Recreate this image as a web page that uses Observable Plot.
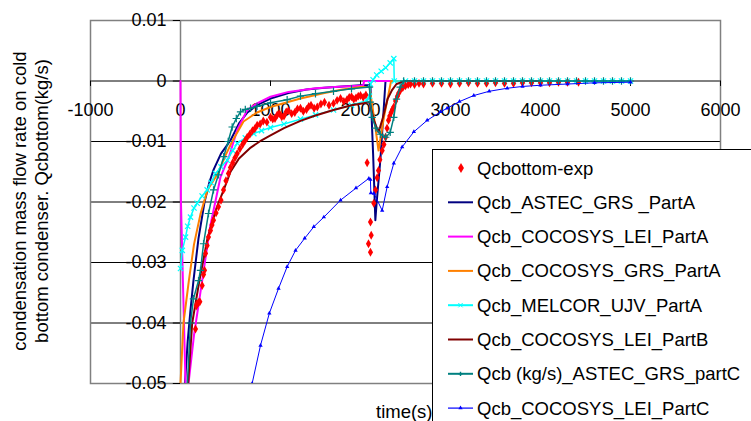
<!DOCTYPE html>
<html><head><meta charset="utf-8">
<script src="https://cdn.jsdelivr.net/npm/d3@7"></script>
<script src="https://cdn.jsdelivr.net/npm/@observablehq/plot@0.6"></script>
<style>body{margin:0;background:#fff} svg{display:block}</style>
</head><body><div id="chart"></div>
<script>
// ---- tick labels ----
const xTicks = [-1000, 0, 1000, 2000, 3000, 4000, 5000, 6000];
const xTickLabels = ["-1000", "0", "1000", "2000", "3000", "4000", "5000", "6000"];
const yTicks = [0.01, 0, -0.01, -0.02, -0.03, -0.04, -0.05];
const yTickLabels = ["0.01", "0", "-0.01", "-0.02", "-0.03", "-0.04", "-0.05"];
const yGrid = [0, -0.01, -0.02, -0.03, -0.04];

// ---- series names ----
const seriesNames = ["Qcbottom-exp", "Qcb_ASTEC_GRS _PartA", "Qcb_COCOSYS_LEI_PartA", "Qcb_COCOSYS_GRS_PartA",
  "Qcb_MELCOR_UJV_PartA", "Qcb_COCOSYS_LEI_PartB", "Qcb (kg/s)_ASTEC_GRS_partC", "Qcb_COCOSYS_LEI_PartC"];
const seriesColors = ["#ff0000", "#000080", "#ff00ff", "#ff8000", "#00ffff", "#800000", "#008080", "#0000ff"];

// ---- experiment (points) ----
const expT = [167,175,185,200,215,241,256,267,278,296,311,333,350,367,395,422,450,478,505,533,555,580,605,630,660,690,715,741,770,800,825,852,885,
  920,960,1000,1025,1050,1075,1100,1125,1150,1175,1200,1235,1270,1300,1333,1365,1400,1425,1450,1485,1520,1560,1600,1650,1700,1740,1778,1815,1850,1875,1900,1925,1950,1975,2000,2030,2060,
  2074,2111,2119,2089,2111,2148,2167,2185,2200,2215,2241,2260,2278,2295,2311,2325,2340,2355,2370,2390,2410,2425,2444,2470,2500,2530,2556,2600,2650,
  2700,2800,2900,3000,3100,3200,3300,3400,3500,3600,3700,3800,3900,4000,4100,4200,4300,4422];
const expQ = [-0.041,-0.0372,-0.0368,-0.0366,-0.0365,-0.0338,-0.032,-0.0313,-0.0285,-0.0272,-0.0258,-0.0247,-0.0238,-0.023,-0.0218,-0.0208,-0.0197,-0.018,-0.0165,-0.0153,-0.0143,-0.0135,-0.0127,-0.012,-0.0112,-0.0105,-0.0099,-0.0093,-0.0088,-0.0082,-0.0079,-0.0073,-0.0071,
  -0.0066,-0.0068,-0.006,-0.0063,-0.0062,-0.0056,-0.0054,-0.0059,-0.0058,-0.0051,-0.0049,-0.0054,-0.0052,-0.0046,-0.0045,-0.005,-0.0047,-0.0042,-0.004,-0.0045,-0.0043,-0.0038,-0.0035,-0.004,-0.0037,-0.0032,-0.0029,-0.0034,-0.0031,-0.0027,-0.0026,-0.003,-0.0028,-0.0025,-0.0024,-0.0027,-0.0023,
  -0.0135,-0.0233,-0.0255,-0.0269,-0.0283,-0.0202,-0.018,-0.016,-0.0148,-0.013,-0.0115,-0.0105,-0.0093,-0.0078,-0.0065,-0.0058,-0.0052,-0.0047,-0.0043,-0.0033,-0.0025,-0.002,-0.0015,-0.0011,-0.0008,-0.0006,-0.0005,-0.0006,-0.0004,
  -0.0005,-0.0004,-0.0004,-0.0005,-0.0004,-0.0003,-0.0004,-0.0004,-0.0003,-0.0004,-0.0004,-0.0003,-0.0003,-0.0003,-0.0003,-0.0002,-0.0002,-0.0002];

// ---- Qcb_ASTEC_GRS _PartA ----
const astecAT = [50,80,110,144,200,267,320,367,450,556,650,744,850,1000,1200,1400,1600,1800,2000,2110,2140,2165,2180,2222,2278,3000,4000];
const astecAQ = [-0.05,-0.043,-0.038,-0.033,-0.026,-0.02,-0.0168,-0.0147,-0.012,-0.0098,-0.007,-0.0052,-0.004,-0.0029,-0.002,-0.0014,-0.0011,-0.0009,-0.0007,-0.0007,-0.012,-0.023,-0.02,-0.0128,0,0,0];

// ---- Qcb_COCOSYS_LEI_PartA ----
const leiAT = [0,5,30,56,72,89,150,241,330,444,537,630,741,850,1000,1200,1500,1800,2000,2030,2040,3000,4000];
const leiAQ = [0,-0.02,-0.035,-0.05,-0.056,-0.05,-0.042,-0.033,-0.024,-0.0159,-0.0126,-0.0081,-0.0048,-0.0037,-0.0026,-0.0018,-0.0012,-0.0009,-0.0008,-0.0008,0,0,0];

// ---- Qcb_COCOSYS_GRS_PartA ----
const grsAT = [0,33,93,150,222,300,407,500,574,700,850,1000,1333,1600,1800,2000,2100,2150,2200,2260,2340,3000,4000];
const grsAQ = [-0.05,-0.04,-0.033,-0.027,-0.022,-0.018,-0.0155,-0.0123,-0.01,-0.0067,-0.0052,-0.0043,-0.0029,-0.002,-0.0014,-0.001,-0.001,-0.006,-0.0115,-0.006,0,0,0];

// ---- Qcb_MELCOR_UJV_PartA ----
const melT = [0,20,56,80,111,150,185,240,296,340,389,450,519,580,630,720,815,900,1000,1150,1333,1500,1700,1900,2074,2100,2110,2140,2180,2230,2280,2330,2370,2375,
  2500,2600,2700,2800,2900,3000,3100,3200,3300,3400,3500,3600,3700,3800,3900,4000,4100,4200,4300,4400,4500,4600,4700,4800,4900,5000];
const melQ = [-0.031,-0.028,-0.0258,-0.024,-0.0225,-0.021,-0.0202,-0.019,-0.018,-0.0168,-0.0153,-0.0142,-0.0131,-0.0115,-0.0103,-0.0094,-0.0087,-0.0082,-0.0077,-0.0071,-0.0063,-0.0056,-0.0048,-0.004,-0.0032,-0.0025,-0.0005,0.0002,0.001,0.0016,0.0022,0.003,0.0037,0,
  0,0,0,0,0,0,0,0,0,0,0,0,0,0,0,0,0,0,0,0,0,0,0,0,0,0];

// ---- Qcb_COCOSYS_LEI_PartB ----
const leiBT = [85,130,210,300,400,480,556,650,780,900,1000,1150,1333,1500,1700,1900,2100,2150,2200,2250,2300,2350,2400,2500,3000,4000];
const leiBQ = [-0.05,-0.04,-0.033,-0.026,-0.021,-0.018,-0.015,-0.0128,-0.011,-0.0098,-0.009,-0.0078,-0.0066,-0.0057,-0.0048,-0.004,-0.0035,-0.0065,-0.0085,-0.006,-0.003,-0.0015,-0.0005,0,0,0];

// ---- Qcb (kg/s)_ASTEC_GRS_partC ----
const astecCT = [77,111,144,200,222,256,311,367,422,480,530,574,620,667,720,778,850,1000,1185,1333,1500,1700,1900,2100,2110,2130,2170,2220,2280,2330,2370,2400,2440,2480,
  2600,2700,2800,2900,3000,3100,3200,3300,3400,3500,3600,3700,3800,3900,4000,4100,4200,4300,4400,4500,4600,4700,4800,4900,5000];
const astecCQ = [-0.05,-0.04,-0.036,-0.033,-0.0313,-0.0269,-0.0219,-0.018,-0.0155,-0.0125,-0.01,-0.0076,-0.0062,-0.0051,-0.0047,-0.0045,-0.0042,-0.0036,-0.0031,-0.0025,-0.0021,-0.0017,-0.0013,-0.001,-0.0035,-0.006,-0.0078,-0.0088,-0.0093,-0.0085,-0.006,-0.003,-0.001,0,
  0,0,0,0,0,0,0,0,0,0,0,0,0,0,0,0,0,0,0,0,0,0,0,0,0];

// ---- Qcb_COCOSYS_LEI_PartC ----
const leiCT = [796,889,987,1089,1185,1278,1380,1481,1593,1778,1950,2093,2110,2115,2150,2241,2296,2370,2463,2593,2741,2889,2963,3100,3259,3430,3630,3800,4000,4300,4600,5000];
const leiCQ = [-0.05,-0.0437,-0.0384,-0.0343,-0.0307,-0.028,-0.026,-0.0241,-0.0225,-0.0197,-0.0177,-0.0161,-0.0163,-0.0185,-0.0186,-0.0214,-0.0175,-0.0136,-0.0109,-0.0084,-0.0065,-0.0051,-0.0045,-0.0034,-0.0024,-0.0017,-0.0012,-0.0009,-0.0007,-0.0005,-0.0003,-0.0002];

const zip = (T, Q) => T.map((t, i) => ({t, q: Q[i]}));
const exp = zip(expT, expQ);
const astecA = zip(astecAT, astecAQ);
const leiA = zip(leiAT, leiAQ);
const grsA = zip(grsAT, grsAQ);
const mel = zip(melT, melQ);
const leiB = zip(leiBT, leiBQ);
const astecC = zip(astecCT, astecCQ);
const leiC = zip(leiCT, leiCQ);

const FONT = "'Liberation Sans', Arial, sans-serif";
const L = (data, i, w) => Plot.line(data, {x: "t", y: "q", stroke: seriesColors[i], strokeWidth: w, clip: true});

const chart = Plot.plot({
  width: 751, height: 421,
  marginLeft: 90, marginRight: 31, marginTop: 20, marginBottom: 38,
  x: {domain: [-1000, 6000], axis: null},
  y: {domain: [-0.05, 0.01], axis: null},
  style: {fontFamily: FONT, fontSize: "18px", background: "white", color: "black"},
  marks: [
    Plot.ruleY(yGrid, {stroke: "black", strokeWidth: 1}),
    Plot.frame({stroke: "#808080", strokeWidth: 1.5}),
    Plot.ruleX([0], {stroke: "#808080", strokeWidth: 1.5}),
    Plot.ruleX(xTicks, {x: d => d, y1: 0, y2: -0.0009, stroke: "black"}),
    Plot.ruleY(yTicks, {y: d => d, x1: -80, x2: 0, stroke: "black"}),
    Plot.text(xTicks, {x: d => d, y: 0, dy: 29, text: (d, i) => xTickLabels[i], fill: "black", fontSize: 18}),
    Plot.text(yTicks, {x: 0, y: d => d, dx: -14, textAnchor: "end", text: (d, i) => yTickLabels[i], fill: "black", fontSize: 18}),
    L(astecA, 1, 2),
    L(leiA, 2, 2),
    L(grsA, 3, 2),
    L(mel, 4, 1.5),
    Plot.dot(mel, {x: "t", y: "q", symbol: "times", r: 2.5, stroke: seriesColors[4], strokeWidth: 1.2, clip: true}),
    L(leiB, 5, 2),
    Plot.dot(exp, {x: "t", y: "q", symbol: "diamond", r: 2.7, fill: seriesColors[0], stroke: "none", clip: true}),
    L(astecC, 6, 1.5),
    Plot.dot(astecC, {x: "t", y: "q", symbol: "plus", r: 2.5, stroke: seriesColors[6], strokeWidth: 1.2, clip: true}),
    L(leiC, 7, 1),
    Plot.dot(leiC, {x: "t", y: "q", symbol: "triangle", r: 1.6, fill: seriesColors[7], stroke: "none", clip: true})
  ]
});
document.getElementById("chart").appendChild(chart);

const svg = d3.select(chart);
// x-axis title
svg.append("text").attr("x", 376).attr("y", 411).attr("text-anchor", "start").attr("dominant-baseline", "central")
  .attr("font-family", FONT).attr("font-size", 18.5).attr("fill", "black").text("time(s)");
// y-axis title (two lines, rotated)
const yTitle = ["condensation mass flow rate on cold", "bottom condenser. Qcbottom(kg/s)"];
yTitle.forEach((s, i) => {
  svg.append("text").attr("transform", `translate(${19 + i * 22},201) rotate(-90)`)
    .attr("text-anchor", "middle").attr("dominant-baseline", "central")
    .attr("font-family", FONT).attr("font-size", 18.5).attr("fill", "black").text(s);
});

// legend
const lg = svg.append("g");
lg.append("rect").attr("x", 432.5).attr("y", 149.5).attr("width", 340).attr("height", 300)
  .attr("fill", "white").attr("stroke", "black").attr("stroke-width", 1);
seriesNames.forEach((name, i) => {
  const cy = 168 + i * 34.3;
  const c = seriesColors[i];
  if (i === 0) {
    lg.append("path").attr("d", d3.symbol(d3.symbolDiamond, 30)()).attr("transform", `translate(461,${cy})`).attr("fill", c);
  } else {
    lg.append("line").attr("x1", 448).attr("x2", 473).attr("y1", cy).attr("y2", cy)
      .attr("stroke", c).attr("stroke-width", i === 7 ? 1.2 : 2);
    if (i === 4) lg.append("path").attr("d", d3.symbol(d3.symbolTimes, 14)()).attr("transform", `translate(460.5,${cy})`).attr("stroke", c).attr("fill", "none");
    if (i === 6) lg.append("path").attr("d", d3.symbol(d3.symbolCross, 10)()).attr("transform", `translate(460.5,${cy})`).attr("fill", c);
    if (i === 7) lg.append("path").attr("d", d3.symbol(d3.symbolTriangle, 8)()).attr("transform", `translate(460.5,${cy})`).attr("fill", c);
  }
  lg.append("text").attr("x", 477).attr("y", cy).attr("text-anchor", "start").attr("dominant-baseline", "central")
    .attr("font-family", FONT).attr("font-size", 18.5).attr("fill", "black").text(name);
});
</script></body></html>
